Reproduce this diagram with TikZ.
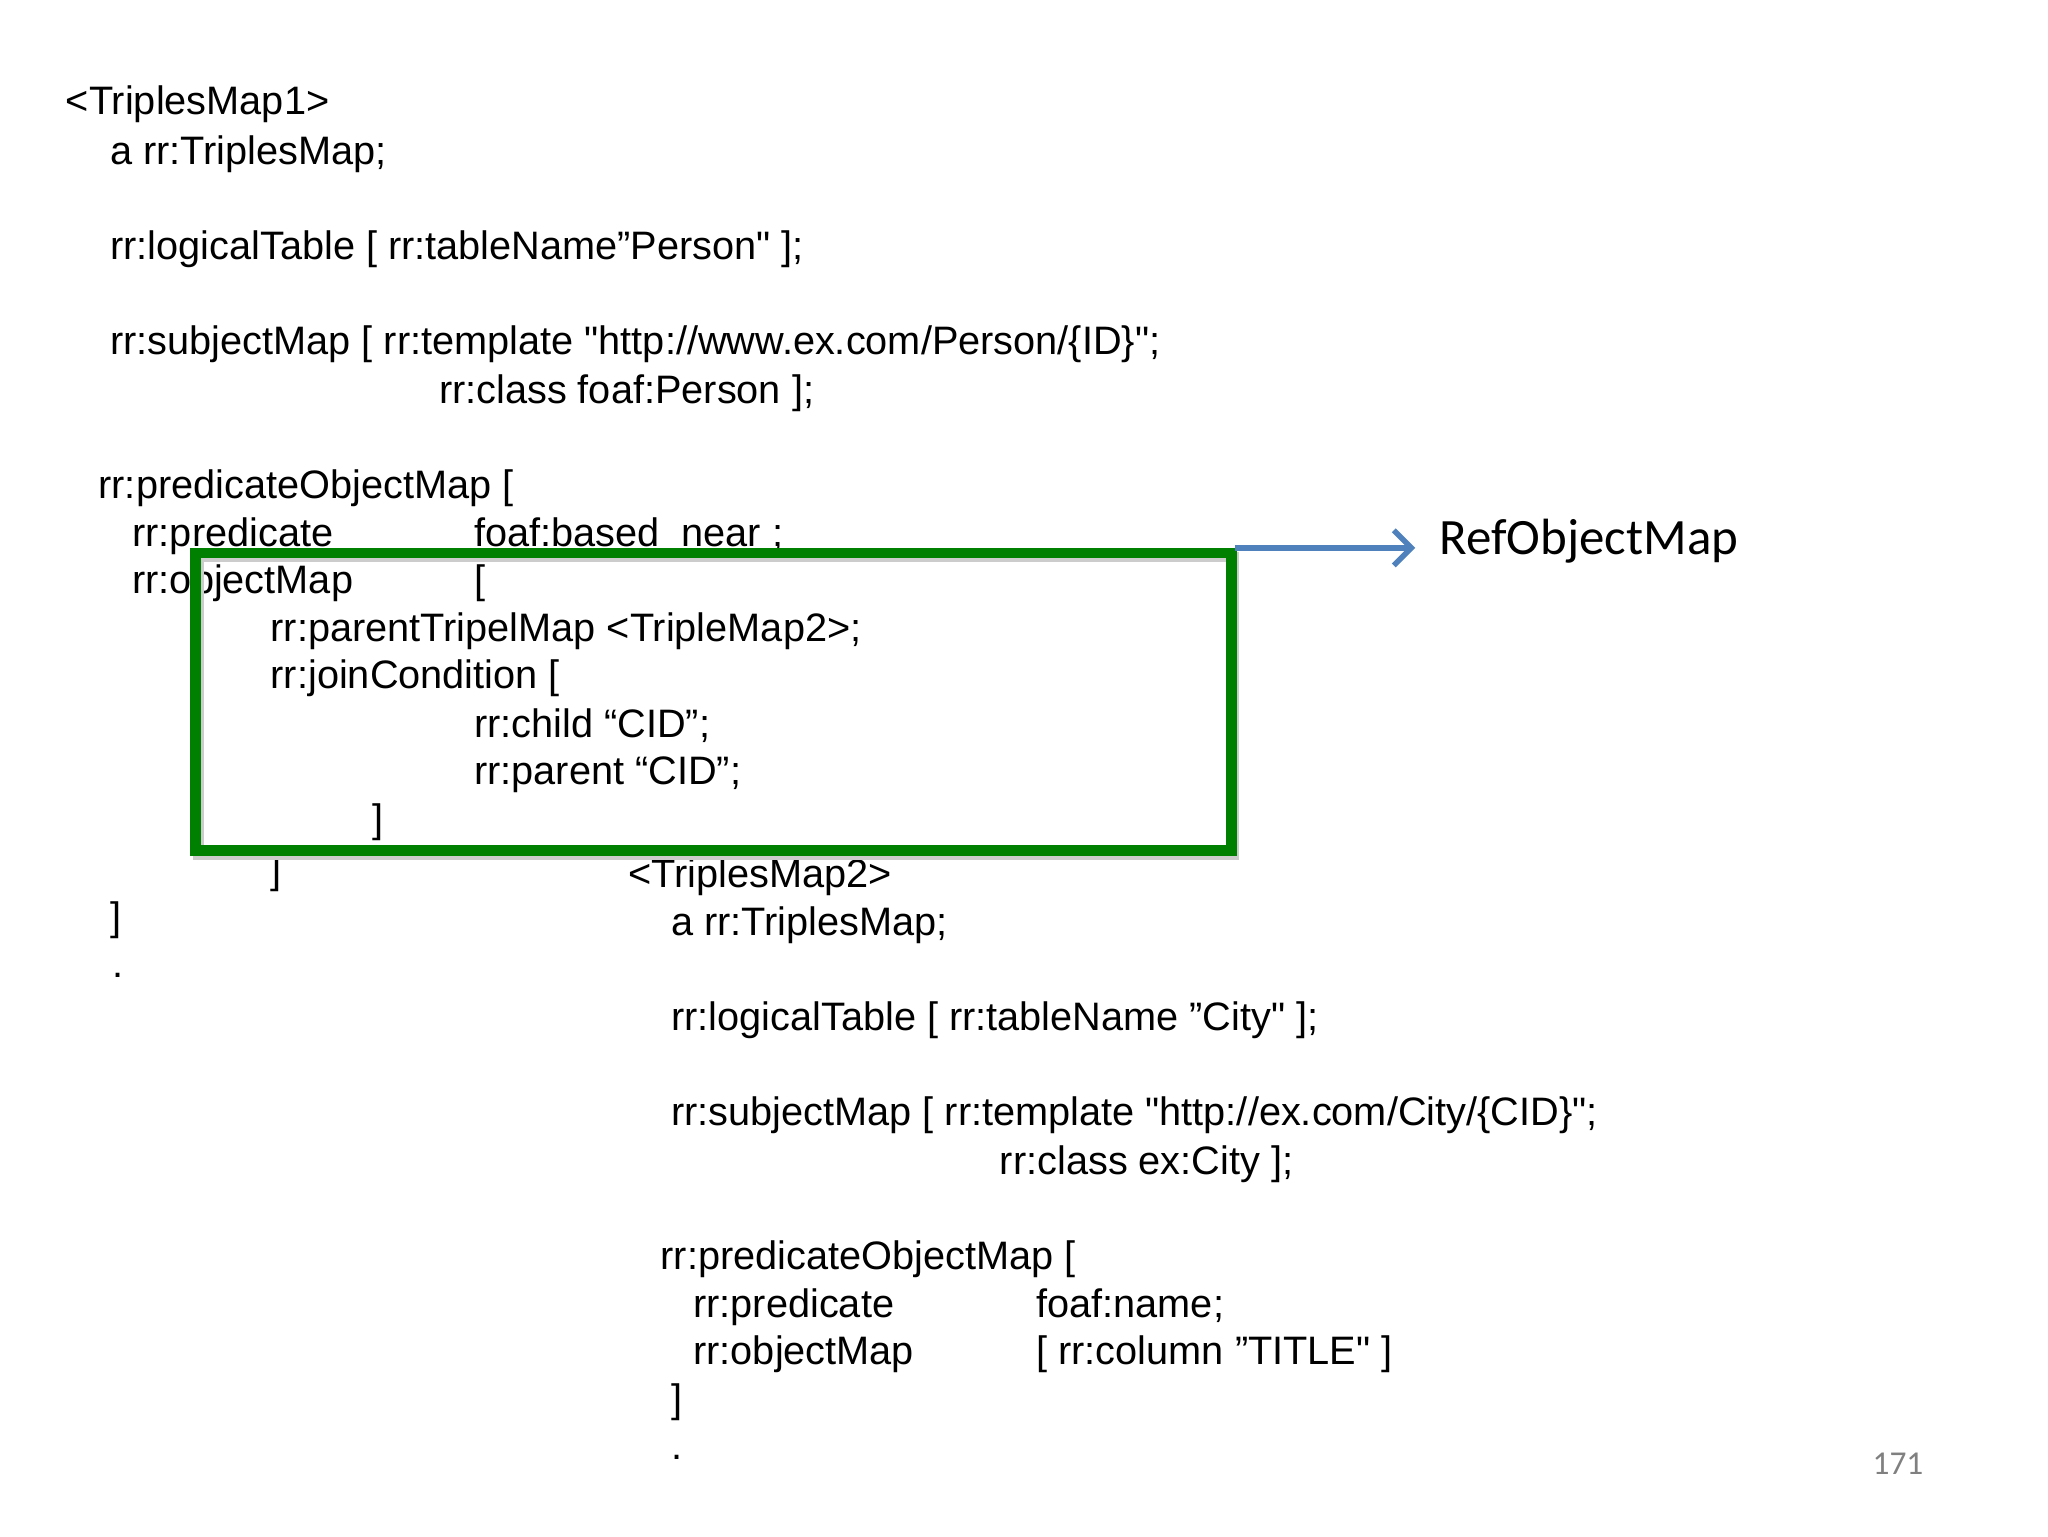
\documentclass[tikz,border=0pt]{standalone}
\usepackage{fontspec}
\setmainfont{Liberation Sans}[Ligatures=TeXOff]
\newfontfamily\calibrifont{Carlito}
\usetikzlibrary{arrows.meta}
\definecolor{boxgreen}{RGB}{0,128,0}
\definecolor{arrowblue}{RGB}{79,129,189}
\begin{document}
\begin{tikzpicture}[x=0.013044cm,y=-0.013044cm,
  code/.style={anchor=base west,inner sep=0pt,font=\fontsize{11.3pt}{13pt}\selectfont}]
\useasboundingbox (0,0) rectangle (1570,1177.5);
\node[code] (l1) at (50,88) {<TriplesMap1>};
\node[code] (l2) at (84,126) {a rr:TriplesMap;};
\node[code] (l3) at (84,199) {rr:logicalTable [ rr:tableName”Person" ];};
\node[code] (l4) at (84,272) {rr:subjectMap [ rr:template "http://www.ex.com/Person/\{ID\}";};
\node[code] (l5) at (336,309) {rr:class foaf:Person ];};
\node[code] (l6) at (75,382) {rr:predicateObjectMap [};
\node[code] (l7) at (101,419) {rr:predicate};
\node[code] (l7b) at (363,419) {foaf:based\_near ;};
\node[code] (l8) at (101,455) {rr:objectMap};
\node[code] (l8b) at (363,455) {[};
\node[code] (l9) at (207,492) {rr:parentTripelMap <TripleMap2>;};
\node[code] (l10) at (207,528) {rr:joinCondition [};
\node[code] (l11) at (363,565) {rr:child “CID”;};
\node[code] (l12) at (363,601) {rr:parent “CID”;};
\node[code] (l13) at (285,638) {]};
\node[code] (l14) at (207,677) {]};
\node[code] (l15) at (84,713) {]};
\node[code] (l16) at (86,749) {.};
\node[code] (m1) at (481,680) {<TriplesMap2>};
\node[code] (m2) at (514,717) {a rr:TriplesMap;};
\node[code] (m3) at (514,790) {rr:logicalTable [ rr:tableName ”City" ];};
\node[code] (m4) at (514,863) {rr:subjectMap [ rr:template "http://ex.com/City/\{CID\}";};
\node[code] (m5) at (766,900) {rr:class ex:City ];};
\node[code] (m6) at (506,973) {rr:predicateObjectMap [};
\node[code] (m7) at (531,1010) {rr:predicate};
\node[code] (m7b) at (794,1010) {foaf:name;};
\node[code] (m8) at (531,1046) {rr:objectMap};
\node[code] (m8b) at (794,1046) {[ rr:column ”TITLE" ]};
\node[code] (m9) at (514,1083) {]};
\node[code] (m10) at (514,1119) {.};
\draw[black!20,line width=3pt] (152,427) rectangle (946,655);
\draw[boxgreen,line width=3pt] (150,424) rectangle (944,652);
\coordinate (bx) at (947,420);
\node[anchor=base west,inner sep=0pt,font=\calibrifont\fontsize{14.5pt}{17pt}\selectfont] (ref) at (1103,425) {RefObjectMap};
\draw[arrowblue,line width=1.6pt,-{Straight Barb[length=5pt,width=10pt]}] (bx) -- (1085,420);
\node[anchor=base west,inner sep=0pt,text=gray,font=\calibrifont\fontsize{9.5pt}{12pt}\selectfont] (pg) at (1435,1130) {171};
\end{tikzpicture}
\end{document}
